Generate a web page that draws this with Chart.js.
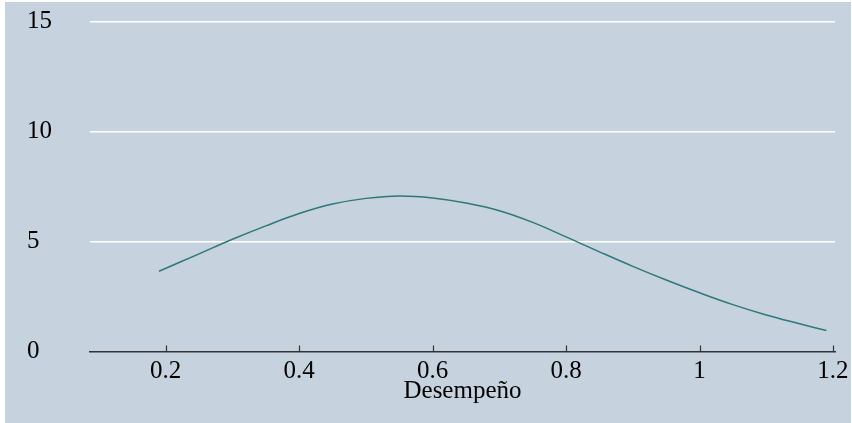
<!DOCTYPE html>
<html>
<head>
<meta charset="utf-8">
<script src="https://cdn.jsdelivr.net/npm/chart.js@4.4.1/dist/chart.umd.min.js"></script>
<style>
  html, body { margin: 0; padding: 0; background: #ffffff; }
  #wrap { position: absolute; left: 5px; top: 2px; width: 846px; height: 421px; background: #c6d3de; }
  canvas { display: block; }
</style>
</head>
<body>
<div id="wrap"><canvas id="c" width="846" height="421"></canvas></div>
<script>
// Kernel density estimate of "Desempeño"
const xValues = [0.19, 0.25, 0.30, 0.35, 0.40, 0.45, 0.50, 0.55, 0.60, 0.65, 0.70, 0.75, 0.80, 0.85, 0.90, 0.95, 1.00, 1.05, 1.10, 1.15, 1.19];
const density = [3.645, 4.44, 5.10, 5.71, 6.27, 6.70, 6.96, 7.07, 6.98, 6.75, 6.40, 5.87, 5.21, 4.53, 3.87, 3.25, 2.67, 2.13, 1.66, 1.26, 0.95];
const xTicks = [0.2, 0.4, 0.6, 0.8, 1.0, 1.2];
const xTickLabels = ['0.2', '0.4', '0.6', '0.8', '1', '1.2'];
const yTicks = [0, 5, 10, 15];
const yTickLabels = ['0', '5', '10', '15'];
const xTitle = 'Desempeño';

const FONT = "'Liberation Serif', 'Times New Roman', serif";

const innerTicks = {
  id: 'innerTicks',
  afterDatasetsDraw(chart) {
    const x = chart.scales.x, y = chart.scales.y;
    const ctx = chart.ctx;
    const base = y.getPixelForValue(0);
    ctx.save();
    ctx.strokeStyle = '#333333';
    ctx.lineWidth = 1.2;
    ctx.beginPath();
    xTicks.forEach(v => {
      const px = Math.round(x.getPixelForValue(v)) + 0.5;
      ctx.moveTo(px, base);
      ctx.lineTo(px, base - 6);
    });
    ctx.stroke();
    ctx.restore();
  }
};

new Chart(document.getElementById('c'), {
  type: 'line',
  data: {
    datasets: [{
      data: xValues.map((x, i) => ({ x: x, y: density[i] })),
      borderColor: '#2e7875',
      borderWidth: 1.5,
      pointRadius: 0,
      tension: 0.4,
      fill: false
    }]
  },
  options: {
    responsive: false,
    animation: false,
    layout: { padding: { left: 22, right: 16, top: 19.5, bottom: 0 } },
    plugins: { legend: { display: false }, tooltip: { enabled: false } },
    scales: {
      x: {
        type: 'linear',
        min: 0.0865,
        max: 1.203,
        afterBuildTicks(s) { s.ticks = xTicks.map(v => ({ value: v })); },
        afterFit(s) { s.height = 71.5; s.paddingLeft = 0; s.paddingRight = 0; },
        grid: { display: false, drawTicks: false },
        border: { display: true, color: '#333333', width: 1.5 },
        ticks: {
          padding: 7,
          color: '#000000',
          maxRotation: 0,
          autoSkip: false,
          font: { family: FONT, size: 25, lineHeight: 1 },
          callback: (v) => { const i = xTicks.findIndex(t => Math.abs(t - v) < 1e-9); return i >= 0 ? xTickLabels[i] : ''; }
        },
        title: {
          display: true,
          text: xTitle,
          color: '#000000',
          font: { family: FONT, size: 25, lineHeight: 1 },
          padding: { top: 0, bottom: 19 }
        }
      },
      y: {
        type: 'linear',
        min: 0,
        max: 15,
        afterBuildTicks(s) { s.ticks = yTicks.map(v => ({ value: v })); },
        afterFit(s) { s.width = 63; s.paddingTop = 0; s.paddingBottom = 0; },
        grid: {
          drawTicks: false,
          lineWidth: 1.5,
          color: (c) => (c.tick && c.tick.value === 0) ? 'rgba(0,0,0,0)' : '#ffffff'
        },
        border: { display: false },
        ticks: {
          crossAlign: 'far',
          color: '#000000',
          autoSkip: false,
          font: { family: FONT, size: 25, lineHeight: 1 },
          callback: (v) => { const i = yTicks.indexOf(v); return i >= 0 ? yTickLabels[i] : ''; }
        }
      }
    }
  },
  plugins: [innerTicks]
});
</script>
</body>
</html>
